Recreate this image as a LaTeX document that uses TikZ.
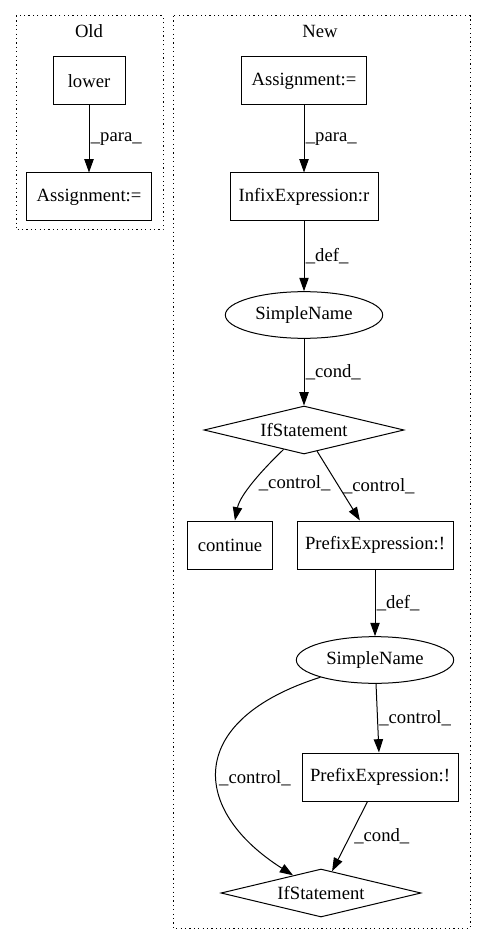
\documentclass[tikz,border=0pt]{standalone}
\usepackage{fontspec}
\setmainfont{Liberation Serif}
\usetikzlibrary{arrows.meta}
\usetikzlibrary{shapes.geometric}

\begin{document}
\begin{tikzpicture}[
      x=0.75pt, y=0.75pt,
      every node/.style={font=\fontsize{14pt}{16pt}\selectfont, inner sep=0pt},
      caixa/.style={draw, rectangle, minimum height=36pt, line width=0.75pt},
      elipse/.style={draw, ellipse, minimum width=118pt, minimum height=35pt, line width=0.75pt},
      losango/.style={draw, diamond, aspect=4.2, minimum width=150pt, minimum height=36pt, line width=0.75pt},
      grupo/.style={line width=0.75pt, dash pattern=on 0.9pt off 2.4pt},
      seta/.style={-{Triangle[length=10pt,width=7pt]}, line width=0.75pt},
      rotulo/.style={right, inner sep=1pt}
    ]
    \useasboundingbox (0,0) rectangle (485,-944);
    % Antigo
    \draw[grupo] (16,-16) rectangle (163,-230);
    \node (tOld) at (89,-31) {Old};
    \node[caixa, minimum width=54pt] (lower) at (89,-81) {lower};
    \node[caixa, minimum width=94pt] (oldAssign) at (89,-197) {Assignment:=};
    \draw[seta] (lower) -- node[rotulo] {\_para\_} (oldAssign);
    % Novo
    \draw[grupo] (173,-16) rectangle (470,-928);
    \node (tNew) at (320,-31) {New};
    \node[caixa, minimum width=94pt] (newAssign) at (304,-81) {Assignment:=};
    \node[caixa, minimum width=111pt] (infix) at (304,-197) {InfixExpression:r};
    \node[elipse] (sn1) at (304,-315) {SimpleName};
    \node[losango] (ifst1) at (304,-430) {IfStatement};
    \node[caixa, minimum width=64pt] (cont) at (230,-545) {continue};
    \node[caixa, minimum width=117pt] (prefix1) at (375,-545) {PrefixExpression:!};
    \node[elipse] (sn2) at (375,-660) {SimpleName};
    \node[caixa, minimum width=117pt] (prefix2) at (380,-777) {PrefixExpression:!};
    \node[losango] (ifst2) at (321,-893) {IfStatement};

    \draw[seta] (newAssign) -- node[rotulo] {\_para\_} (infix);
    \draw[seta] (infix) -- node[rotulo] {\_def\_} (sn1);
    \draw[seta] (sn1) -- node[rotulo] {\_cond\_} (ifst1);
    \draw[seta] (ifst1) .. controls (262,-470) and (240,-495) .. (cont)
      node[rotulo, pos=0.5, xshift=3pt] {\_control\_};
    \draw[seta] (ifst1) -- node[rotulo, xshift=2pt] {\_control\_} (prefix1);
    \draw[seta] (prefix1) -- node[rotulo] {\_def\_} (sn2);
    \draw[seta] (sn2) -- node[rotulo] {\_control\_} (prefix2);
    \draw[seta] (sn2) .. controls (185,-720) and (190,-810) .. (ifst2)
      node[rotulo, pos=0.55] {\_control\_};
    \draw[seta] (prefix2) -- node[rotulo, xshift=2pt] {\_cond\_} (ifst2);
  \end{tikzpicture}
\end{document}
